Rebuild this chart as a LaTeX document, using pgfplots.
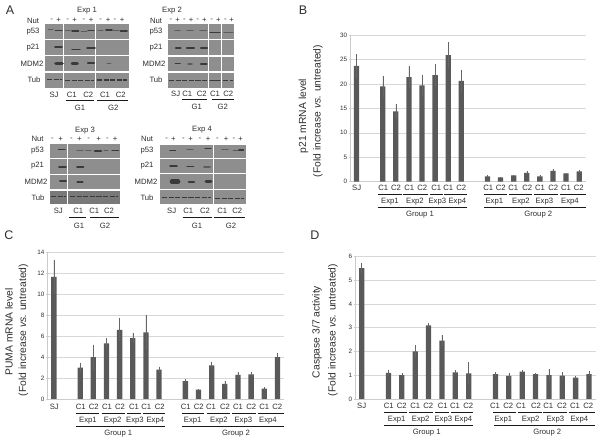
\documentclass[border=0pt]{standalone}
\usepackage{fontspec}
\setmainfont{Liberation Sans}
\usepackage{pgfplots}
\pgfplotsset{compat=1.18}
\definecolor{barc}{HTML}{595959}
\definecolor{gridc}{HTML}{D8D8D8}
\definecolor{blotc}{HTML}{8E8E8E}
\definecolor{bandc}{HTML}{3A3A3A}
\definecolor{txt}{HTML}{2E2E2E}
\newcommand{\fa}{\fontsize{7.7}{9}\selectfont}
\newcommand{\fb}{\fontsize{10.3}{12}\selectfont}
\newcommand{\fl}{\fontsize{12.5}{14}\selectfont}
\newcommand{\T}[3]{\node[font=\fa,text=txt,inner sep=0pt] at (axis cs:#1,#2) {#3};}
\newcommand{\Y}[3]{\node[font=\fb,text=txt,inner sep=0pt,rotate=90] at (axis cs:#1,#2) {#3};}
\newcommand{\band}[4]{\addplot[line width=#4pt,color=bandc,line cap=round,forget plot] coordinates {(#1,#3) (#2,#3)};}
\newcommand{\tub}[4]{\addplot[line width=#4pt,color=bandc,dash pattern=on 5.2pt off 1.4pt,forget plot] coordinates {(#1,#3) (#2,#3)};}
\newcommand{\weak}[4]{\addplot[line width=#4pt,color=bandc!60!blotc,line cap=round,forget plot] coordinates {(#1,#3) (#2,#3)};}
\newcommand{\rect}[5]{\addplot[fill=#5,draw=none,forget plot] coordinates {(#1,#3) (#2,#3) (#2,#4) (#1,#4)} --cycle;}
\newcommand{\blk}[3]{\addplot[line width=1pt,color=black!90,forget plot] coordinates {(#1,#3) (#2,#3)};}
\pgfplotsset{
  barpanel/.style={
    scale only axis, ybar, bar width=5.3pt, xmin=-0.5, xmax=17.5, ymin=0,
    xtick=\empty, axis x line=bottom, axis y line=left,
    axis line style={-,color=gridc!85!gray,line width=0.5pt},
    ymajorgrids, grid style={color=gridc,line width=0.5pt},
    tick style={color=gridc!85!gray,line width=0.4pt},
    major tick length=2.5pt,
    /pgf/number format/assume math mode=true,
    yticklabel style={font=\fontsize{6.3}{8}\selectfont,text=txt,inner sep=1.5pt},
    clip=false
  },
  barser/.style={fill=barc,draw=none,
    error bars/.cd,y dir=both,y explicit,
    error bar style={color=black!60,line width=0.4pt},
    error mark=none}
}
\begin{document}
\begin{tikzpicture}
\useasboundingbox (0pt,0pt) rectangle (600pt,443pt);
% panel B
\begin{axis}[barpanel,at={(350pt,261.3pt)},anchor=south west,width=235.7pt,height=146.7pt,ymax=30,ytick={0,5,10,15,20,25,30}]
\addplot[barser] coordinates {
(0,23.7) +- (0,2.4)
(2,19.5) +- (0,2.2)
(3,14.4) +- (0,1.4)
(4,21.4) +- (0,2.3)
(5,19.7) +- (0,2.2)
(6,21.8) +- (0,2.3)
(7,25.9) +- (0,2.7)
(8,20.6) +- (0,2.3)
(10,1.1) +- (0,0.2)
(11,0.9) +- (0,0.1)
(12,1.3) +- (0,0.1)
(13,1.8) +- (0,0.3)
(14,1.1) +- (0,0.2)
(15,2.2) +- (0,0.3)
(16,1.7) +- (0,0.1)
(17,2.1) +- (0,0.3)
};
\end{axis}
% panel C
\begin{axis}[barpanel,at={(47.3pt,44pt)},anchor=south west,width=236.7pt,height=146.7pt,ymax=14,ytick={0,2,4,6,8,10,12,14}]
\addplot[barser] coordinates {
(0,11.65) +- (0,1.65)
(2,3.0) +- (0,0.4)
(3,4.0) +- (0,1.2)
(4,5.3) +- (0,0.5)
(5,6.6) +- (0,1.1)
(6,5.8) +- (0,0.5)
(7,6.35) +- (0,1.65)
(8,2.8) +- (0,0.3)
(10,1.7) +- (0,0.25)
(11,0.9) +- (0,0.05)
(12,3.2) +- (0,0.35)
(13,1.45) +- (0,0.25)
(14,2.3) +- (0,0.3)
(15,2.35) +- (0,0.25)
(16,1.0) +- (0,0.1)
(17,4.0) +- (0,0.4)
};
\end{axis}
% panel D
\begin{axis}[barpanel,at={(355pt,44pt)},anchor=south west,width=240.7pt,height=142.7pt,ymax=6,ytick={0,1,2,3,4,5,6}]
\addplot[barser] coordinates {
(0,5.5) +- (0,0.2)
(2,1.1) +- (0,0.13)
(3,1.0) +- (0,0.08)
(4,2.0) +- (0,0.25)
(5,3.1) +- (0,0.08)
(6,2.45) +- (0,0.23)
(7,1.12) +- (0,0.08)
(8,1.08) +- (0,0.47)
(10,1.05) +- (0,0.08)
(11,0.97) +- (0,0.11)
(12,1.15) +- (0,0.05)
(13,1.05) +- (0,0.05)
(14,1.0) +- (0,0.25)
(15,0.98) +- (0,0.14)
(16,0.9) +- (0,0.05)
(17,1.05) +- (0,0.12)
};
\end{axis}
% pixel overlay: blots, labels, brackets
\begin{axis}[at={(0pt,0pt)},anchor=south west,scale only axis,width=600pt,height=443pt,
  xmin=0,xmax=600,ymin=0,ymax=443,y dir=reverse,hide axis,clip=false,no markers]
% Exp 1 blot
\rect{45}{129}{24.3}{38.7}{blotc}\rect{45}{129}{39.7}{55}{blotc}\rect{45}{129}{56}{71}{blotc}\rect{45}{129}{72.7}{87.7}{blotc}
\rect{63}{63.9}{24.3}{87.7}{white}\rect{95.4}{96.2}{24.3}{87.7}{white}
\weak{48}{53}{29.8}{0.8}\band{55.5}{62}{30.3}{1.3}
\weak{65.5}{70}{31}{1}\band{72}{78.5}{30.8}{1.6}
\weak{81}{87}{31.5}{0.9}\band{88}{94}{30.8}{1.3}
\weak{98}{103}{31}{1}\band{106}{112}{30.3}{1.8}
\weak{113}{119}{31}{1}\band{120.5}{127}{31}{1.6}
\band{55}{62}{47}{1.6}\band{72}{80}{49.3}{1.3}\band{87}{95}{48}{1.9}
\band{56}{62}{63.5}{3.6}\band{72}{77.5}{63.5}{2.5}\band{88}{94}{63}{2.5}\weak{107}{111}{63}{0.5}
\tub{47}{62}{79.8}{1.4}\tub{65}{94}{80.3}{1.4}\tub{97}{127}{80.2}{1.4}
% Exp 2 blot
\rect{167.7}{234.3}{24.3}{38.7}{blotc}\rect{167.7}{234.3}{39.7}{55}{blotc}\rect{167.7}{234.3}{56.7}{71}{blotc}\rect{167.7}{234.3}{72.7}{87.7}{blotc}
\rect{208}{208.8}{24.3}{87.7}{white}\rect{221.4}{222.1}{24.3}{87.7}{white}
\weak{175}{180}{30.5}{1.1}\weak{187}{193}{30.8}{1.1}\weak{200}{206.5}{30.8}{1.4}
\band{210}{220}{32.3}{1.3}\weak{224}{233}{32.3}{1.4}
\band{176}{180.5}{47.7}{2.2}\band{187}{194}{47.7}{2.2}\band{201}{207}{48.2}{2.4}
\band{175.5}{180}{63.5}{1.8}\weak{188}{192}{64.2}{1.4}\band{201}{206.5}{64}{2.4}
\tub{169}{207}{80.6}{1.2}\band{210}{220}{80.2}{1.2}\tub{223}{233}{80.8}{1.2}
% Exp 3 blot
\rect{49.7}{120}{144}{158.3}{blotc}\rect{49.7}{120}{159.3}{174}{blotc}\rect{49.7}{120}{175}{189.3}{blotc}\rect{49.7}{120}{190.7}{204}{blotc!85!black}
\rect{67.3}{68}{144}{204}{white}
\band{58.5}{65}{149.3}{1.4}\weak{77}{83}{150.7}{1.1}\weak{86}{91}{150.7}{1.3}\band{95}{101}{151}{2.6}\weak{104}{108}{150.7}{0.9}\band{112}{118.5}{150.7}{1.3}
\band{59}{66}{167}{1.8}\band{77}{83.5}{166.7}{1.8}
\band{60}{66}{181.3}{2}\band{77.5}{82.5}{182.3}{2.2}
\tub{51}{66}{196.3}{1.2}\tub{70}{118}{196.5}{1.3}
% Exp 4 blot
\rect{160}{246}{145}{158.3}{blotc}\rect{160}{246}{159.3}{173.3}{blotc}\rect{160}{246}{174.3}{189.3}{blotc}\rect{160}{246}{190.3}{204.3}{blotc}
\rect{213}{213.7}{145}{204.3}{white}
\band{170}{175.5}{150.5}{1.4}\weak{187}{193}{149.7}{1.3}\band{205}{211}{148.5}{1.2}
\weak{222}{228}{149.5}{1.4}\weak{233}{239}{150.5}{0.9}\band{239}{243.5}{150}{1.4}
\band{170}{177}{166}{1.5}\band{187}{193.5}{166.7}{1.5}\weak{204}{210}{167}{1.5}
\band{172}{178}{181.5}{4.6}\band{189}{194}{182}{2.8}\band{206}{211}{182}{3}
\tub{162}{211}{197.5}{1.3}\tub{215}{244}{198.5}{1.2}
% Blot text
\T{87}{11}{Exp 1}\T{172}{11}{Exp 2}\T{85}{130.3}{Exp 3}\T{202}{129.3}{Exp 4}
\T{33}{20.5}{Nut}\T{33}{32}{p53}\T{33}{47.7}{p21}\T{32}{64}{MDM2}\T{34}{80}{Tub}
\T{156}{20.5}{Nut}\T{156}{32}{p53}\T{156}{47.7}{p21}\T{154}{64}{MDM2}\T{156}{80}{Tub}
\T{37.5}{139}{Nut}\T{37.5}{150.7}{p53}\T{37.5}{166}{p21}\T{36}{181.7}{MDM2}\T{38}{198}{Tub}
\T{147}{139}{Nut}\T{147}{150.7}{p53}\T{147}{166}{p21}\T{146}{181.7}{MDM2}\T{147}{198}{Tub}
% signs
\T{51.7}{20.5}{-}\T{58.5}{20.5}{+}\T{67.7}{20.5}{-}\T{74.7}{20.5}{+}\T{84}{20.5}{-}\T{91}{20.5}{+}\T{100.7}{20.5}{-}\T{108}{20.5}{+}\T{115}{20.5}{-}\T{122}{20.5}{+}
\T{171}{20.5}{-}\T{177.7}{20.5}{+}\T{184.3}{20.5}{-}\T{191}{20.5}{+}\T{197.7}{20.5}{-}\T{204.3}{20.5}{+}\T{211.7}{20.5}{-}\T{218.3}{20.5}{+}\T{225.3}{20.5}{-}\T{231.7}{20.5}{+}
\T{52.3}{139.5}{-}\T{60.7}{139.5}{+}\T{71.3}{139.5}{-}\T{79.3}{139.5}{+}\T{88.7}{139.5}{-}\T{98.7}{139.5}{+}\T{107.3}{139.5}{-}\T{115}{139.5}{+}
\T{166.7}{139.5}{-}\T{173.3}{139.5}{+}\T{183.3}{139.5}{-}\T{190.7}{139.5}{+}\T{200}{139.5}{-}\T{208}{139.5}{+}\T{217.3}{139.5}{-}\T{226}{139.5}{+}\T{234}{139.5}{-}\T{240.7}{139.5}{+}
% under-blot labels
\T{54}{94.5}{SJ}\T{71.7}{94.5}{C1}\T{88.3}{94.5}{C2}\T{105}{94.5}{C1}\T{120.7}{94.5}{C2}
\blk{65.7}{94.3}{100.7}\blk{97.3}{127.7}{100.7}\T{80}{108.3}{G1}\T{113.3}{108.3}{G2}
\T{175.7}{93.7}{SJ}\T{187.3}{93.7}{C1}\T{201.7}{93.7}{C2}\T{215}{93.7}{C1}\T{228.3}{93.7}{C2}
\blk{182.3}{207.3}{100}\blk{212}{234}{100}\T{196.7}{107.3}{G1}\T{222.7}{107.3}{G2}
\T{58.3}{211}{SJ}\T{78.3}{211}{C1}\T{94.3}{211}{C1}\T{109}{211}{C2}
\blk{69.3}{86}{217.7}\blk{90}{119}{217.7}\T{79}{225.7}{G1}\T{105}{225.7}{G2}
\T{171.7}{211}{SJ}\T{188.3}{211}{C1}\T{205}{211}{C2}\T{222.3}{211}{C1}\T{237.3}{211}{C2}
\blk{182.7}{211.7}{218}\blk{214.3}{245}{218}\T{197}{225.7}{G1}\T{231}{225.7}{G2}
% panel letters
\node[font=\fl,text=txt,inner sep=0pt] at (axis cs:10,10) {A};
\node[font=\fl,text=txt,inner sep=0pt] at (axis cs:303,10) {B};
\node[font=\fl,text=txt,inner sep=0pt] at (axis cs:9,235) {C};
\node[font=\fl,text=txt,inner sep=0pt] at (axis cs:315,235) {D};
% y labels
\Y{303.5}{116}{p21 mRNA level}\Y{318}{111}{(Fold increase \textit{vs.} untreated)}
\Y{9}{332}{PUMA mRNA level}\Y{23.5}{330}{(Fold increase \textit{vs.} untreated)}
\Y{317}{332}{Caspase 3/7 activity}\Y{333}{330}{(Fold increase \textit{vs.} untreated)}
% B labels
\T{356.7}{188}{SJ}\T{383.3}{188}{C1}\T{396}{188}{C2}\T{409.3}{188}{C1}\T{422.3}{188}{C2}\T{436.3}{188}{C1}\T{448.3}{188}{C1}\T{461.3}{188}{C2}
\T{488.3}{188}{C1}\T{500.7}{188}{C2}\T{513.3}{188}{C1}\T{527.3}{188}{C2}\T{540}{188}{C1}\T{553.3}{188}{C2}\T{566}{188}{C1}\T{578.7}{188}{C2}
\blk{378.3}{401.7}{194.3}\blk{402.7}{427.7}{194.3}\blk{430}{442.7}{194.3}\blk{444.3}{466.7}{194.3}
\blk{484}{506.7}{194.3}\blk{509}{532.3}{194.3}\blk{534.3}{558.3}{194.3}\blk{560}{585.7}{194.3}
\T{390}{201.3}{Exp1}\T{415}{201.3}{Exp2}\T{437.3}{201.3}{Exp3}\T{457.3}{201.3}{Exp4}
\T{494.3}{201.3}{Exp1}\T{521}{201.3}{Exp2}\T{544.3}{201.3}{Exp3}\T{570}{201.3}{Exp4}
\blk{377.7}{466.7}{207.7}\blk{484}{586}{207.7}
\T{420}{215}{Group 1}\T{538.3}{215}{Group 2}
% C labels
\T{54.3}{407}{SJ}\T{80.7}{407}{C1}\T{93.7}{407}{C2}\T{107}{407}{C1}\T{120}{407}{C2}\T{134}{407}{C1}\T{146.3}{407}{C1}\T{159.7}{407}{C2}
\T{185.7}{407}{C1}\T{198.7}{407}{C2}\T{211}{407}{C1}\T{225}{407}{C2}\T{238}{407}{C1}\T{251.3}{407}{C2}\T{264.3}{407}{C1}\T{277.3}{407}{C2}
\blk{76}{99.3}{413.7}\blk{101.7}{125}{413.7}\blk{127.3}{141.3}{413.7}\blk{142.7}{165}{413.7}
\blk{181.7}{204.3}{413.7}\blk{206.7}{230}{413.7}\blk{232.3}{256}{413.7}\blk{257.7}{284}{413.7}
\T{88}{420.7}{Exp1}\T{112.7}{420.7}{Exp2}\T{135}{420.7}{Exp3}\T{155.3}{420.7}{Exp4}
\T{192.7}{420.7}{Exp1}\T{219}{420.7}{Exp2}\T{243.3}{420.7}{Exp3}\T{268}{420.7}{Exp4}
\blk{76}{165}{426.7}\blk{181.7}{284}{426.7}
\T{118.3}{434}{Group 1}\T{236}{434}{Group 2}
% D labels
\T{361.7}{406}{SJ}\T{388.7}{406}{C1}\T{401.7}{406}{C2}\T{415.3}{406}{C1}\T{428.3}{406}{C2}\T{442.7}{406}{C1}\T{455}{406}{C1}\T{468.3}{406}{C2}
\T{495}{406}{C1}\T{508.3}{406}{C2}\T{521}{406}{C1}\T{536}{406}{C2}\T{548.3}{406}{C1}\T{562}{406}{C2}\T{575}{406}{C1}\T{588.3}{406}{C2}
\blk{384.3}{407.3}{412.3}\blk{409.3}{433.3}{412.3}\blk{435}{449.3}{412.3}\blk{451}{472.7}{412.3}
\blk{493.3}{516}{412.3}\blk{517.7}{541.7}{412.3}\blk{543.3}{567.3}{412.3}\blk{569.3}{595}{412.3}
\T{396.7}{419.3}{Exp1}\T{420.7}{419.3}{Exp2}\T{443.3}{419.3}{Exp3}\T{463.3}{419.3}{Exp4}
\T{503.3}{419.3}{Exp1}\T{530.7}{419.3}{Exp2}\T{555.3}{419.3}{Exp3}\T{579.3}{419.3}{Exp4}
\blk{384.3}{472.7}{426}\blk{494}{595}{426}
\T{426.7}{432.3}{Group 1}\T{547.3}{432.3}{Group 2}
\end{axis}
\end{tikzpicture}
\end{document}
